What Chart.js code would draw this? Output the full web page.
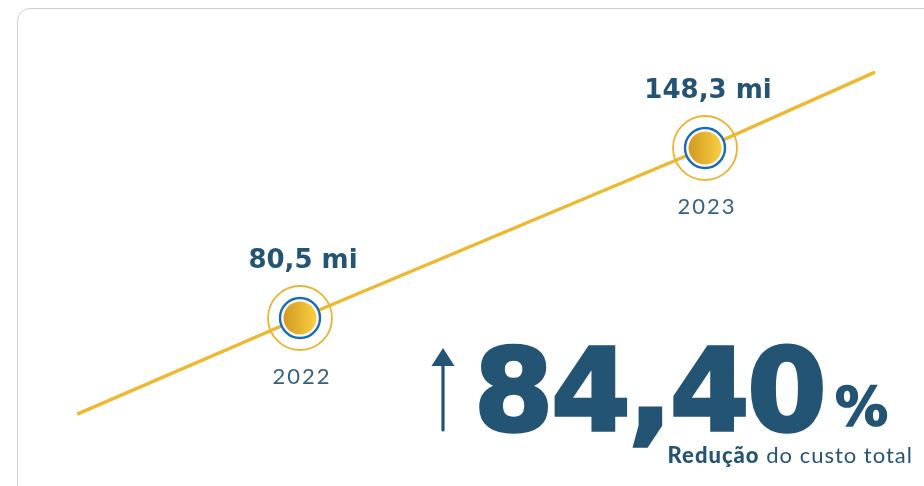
<!DOCTYPE html>
<html><head><meta charset="utf-8">
<script src="https://cdn.jsdelivr.net/npm/chart.js@4"></script>
<style>
html,body{margin:0;padding:0;background:#fff;width:924px;height:486px;overflow:hidden}
#card{position:absolute;left:17px;top:8px;width:980px;height:540px;border:1.5px solid #d0d0d0;border-radius:13px;box-sizing:border-box}
#wrap{position:absolute;left:0;top:0;width:924px;height:486px}
#kpi{position:absolute;left:0;top:0}
</style></head>
<body>
<div id="card"></div>
<div id="wrap"><canvas id="c" width="924" height="486"></canvas></div>
<svg id="kpi" width="924" height="486" xmlns="http://www.w3.org/2000/svg">
  <line x1="443" y1="430" x2="443" y2="362" stroke="#245473" stroke-width="3.2" stroke-linecap="round"/>
  <polygon points="443,348 431.5,366 454.5,366" fill="#245473"/>
  <text id="kpiNum" x="474" y="430" font-family="DejaVu Sans" font-weight="bold" font-size="114" fill="#245473" stroke="#245473" stroke-width="3.5" letter-spacing="-2"></text>
  <text id="kpiPct" x="835" y="425" font-family="DejaVu Sans" font-weight="bold" font-size="53" fill="#245473" stroke="#245473" stroke-width="1.5"></text>
  <text x="913" y="463" text-anchor="end" font-family="Lato" font-size="22" letter-spacing="1" fill="#245473"><tspan id="kpiBold" font-weight="900"></tspan><tspan id="kpiRest" font-weight="400"></tspan></text>
</svg>
<script>
// ---- data ----
const years = [2022, 2023];
const values = [80.5, 148.3];
const valueLabels = ['80,5 mi', '148,3 mi'];
const yearLabels = ['2022', '2023'];
const trendStart = [2021.45, 42.2];   // where the trend line begins (estimated)
const trendEnd = [2023.42, 178.6];    // where the trend line ends (estimated)
const kpiValue = '84,40';
const kpiUnit = '%';
const kpiLabelBold = 'Redução';
const kpiLabelRest = ' do custo total';

document.getElementById('kpiNum').textContent = kpiValue;
document.getElementById('kpiPct').textContent = kpiUnit;
document.getElementById('kpiBold').textContent = kpiLabelBold;
document.getElementById('kpiRest').textContent = kpiLabelRest;

const pts = years.map((y, i) => ({x: y, y: values[i]}));
const trend = [{x: trendStart[0], y: trendStart[1]}, ...pts, {x: trendEnd[0], y: trendEnd[1]}];

// gold gradient disc used as point style
const disc = document.createElement('canvas');
disc.width = 34; disc.height = 34;
(function () {
  const c = disc.getContext('2d');
  const g = c.createLinearGradient(1, 0, 33, 0);
  g.addColorStop(0, '#D49A24');
  g.addColorStop(1, '#F8D042');
  c.fillStyle = g;
  c.beginPath(); c.arc(17, 17, 16.5, 0, Math.PI * 2); c.fill();
})();

const DARK = '#245473';
const labelPlugin = {
  id: 'labels',
  afterDatasetsDraw(chart) {
    const ctx = chart.ctx, xs = chart.scales.x, ys = chart.scales.y;
    ctx.save();
    ctx.textAlign = 'center';
    ctx.textBaseline = 'alphabetic';
    years.forEach((yr, i) => {
      const px = xs.getPixelForValue(yr), py = ys.getPixelForValue(values[i]);
      ctx.fillStyle = DARK;
      ctx.font = 'bold 26px "DejaVu Sans"';
      ctx.letterSpacing = '0px';
      ctx.fillText(valueLabels[i], px + 3, py - 50);
      ctx.fillStyle = '#36627f';
      ctx.font = '400 22px Lato';
      ctx.letterSpacing = '2px';
      ctx.fillText(yearLabels[i], px + 2, py + 66);
    });
    ctx.restore();
  }
};

new Chart(document.getElementById('c'), {
  type: 'line',
  data: {
    datasets: [
      {data: trend, borderColor: '#ECB930', borderWidth: 3.5, pointRadius: 0, order: 4, tension: 0},
      {data: pts, showLine: false, pointRadius: 32, pointBorderWidth: 1.8, pointBorderColor: '#E8B533', pointBackgroundColor: 'rgba(0,0,0,0)', order: 3},
      {data: pts, showLine: false, pointRadius: 20, pointBorderWidth: 2.4, pointBorderColor: '#1A6CB4', pointBackgroundColor: '#ffffff', order: 2},
      {data: pts, showLine: false, pointRadius: 17, pointStyle: disc, order: 1}
    ]
  },
  options: {
    responsive: false,
    animation: false,
    layout: {padding: 0, autoPadding: false},
    scales: {
      x: {type: 'linear', display: false, min: 2021.2593, max: 2023.5407},
      y: {type: 'linear', display: false, min: 13.50, max: 207.33}
    },
    plugins: {legend: {display: false}, tooltip: {enabled: false}}
  },
  plugins: [labelPlugin]
});
</script>
</body></html>
